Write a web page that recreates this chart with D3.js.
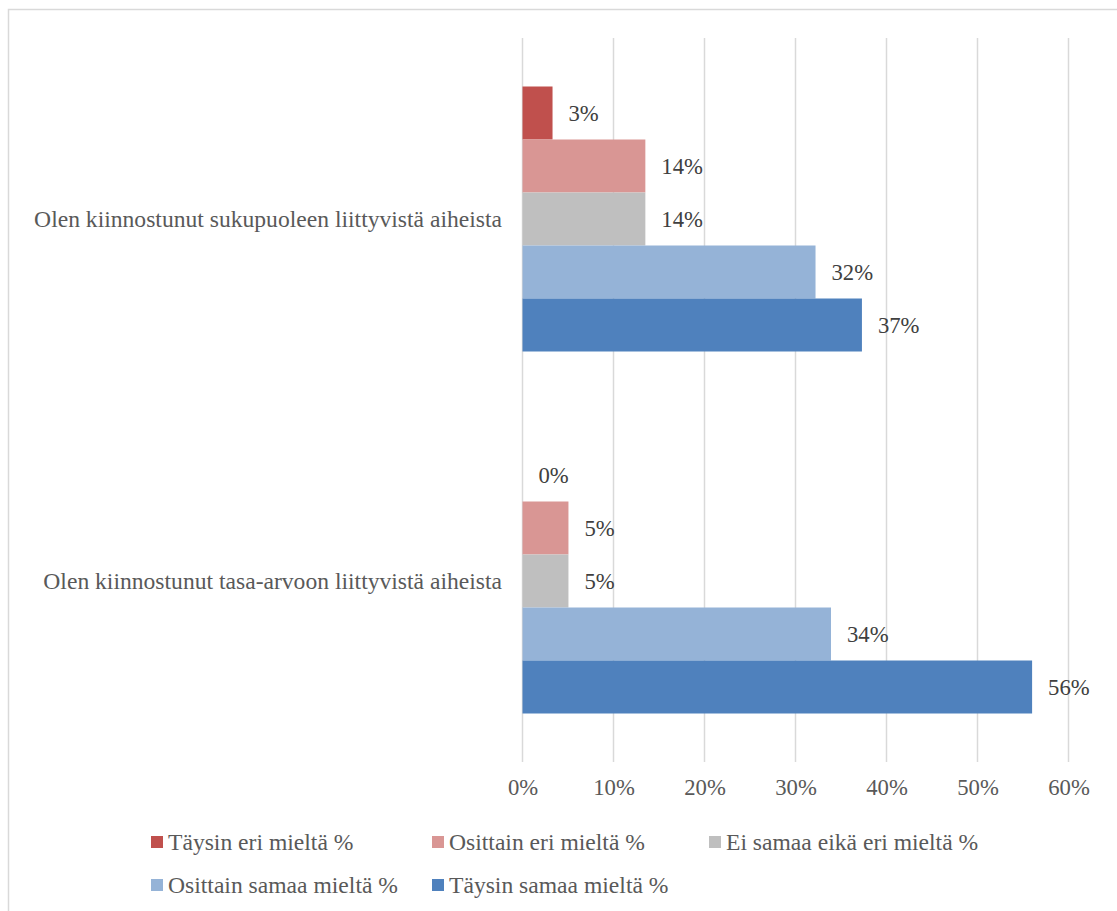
<!DOCTYPE html>
<html><head><meta charset="utf-8">
<script src="https://cdn.jsdelivr.net/npm/d3@7"></script>
<style>body{margin:0;background:#fff}svg{display:block}text{font-family:"Liberation Serif","Times New Roman",serif}</style>
</head><body>
<svg id="c" width="1117" height="911"></svg>
<script>
const categories = ["Olen kiinnostunut sukupuoleen liittyvistä aiheista", "Olen kiinnostunut tasa-arvoon liittyvistä aiheista"];
const seriesNames = ["Täysin eri mieltä %", "Osittain eri mieltä %", "Ei samaa eikä eri mieltä %", "Osittain samaa mieltä %", "Täysin samaa mieltä %"];
const seriesColors = ["#C0504D", "#D99694", "#BFBFBF", "#95B3D7", "#4F81BD"];
const taysinEri = [3.3, 0];
const osittainEri = [13.5, 5.05];
const eiSamaa = [13.5, 5.05];
const osittainSamaa = [32.2, 33.9];
const taysinSamaa = [37.3, 56.0];
const xTicks = [0, 10, 20, 30, 40, 50, 60];

const seriesValues = [taysinEri, osittainEri, eiSamaa, osittainSamaa, taysinSamaa];
const svg = d3.select("#c");
const fsNum = 22.7;
const fsText = 23.6;

svg.append("rect").attr("x", 8.5).attr("y", 9.5).attr("width", 1130).attr("height", 920)
  .attr("fill", "#fff").attr("stroke", "#d9d9d9").attr("stroke-width", 1.5);

const x = d3.scaleLinear().domain([0, 60]).range([522.5, 1068.5]);
const y0 = d3.scaleBand().domain(categories).range([38, 762]).paddingInner(0).paddingOuter(0);
const y1 = d3.scaleBand().domain(seriesNames).range([0, 265]);
const groupOff = (y0.bandwidth() - 265) / 2;

// gridlines
svg.append("g").selectAll("line").data(xTicks).join("line")
  .attr("x1", d => x(d)).attr("x2", d => x(d)).attr("y1", 38).attr("y2", 762)
  .attr("stroke", "#d9d9d9").attr("stroke-width", 1.5);

// x axis labels
const xAxis = d3.axisBottom(x).tickValues(xTicks).tickFormat(d => d + "%").tickSize(0).tickPadding(0);
const gx = svg.append("g").attr("transform", "translate(0,779)").call(xAxis);
gx.select(".domain").remove();
gx.attr("font-family", null);
gx.selectAll("text").attr("font-size", fsNum).attr("fill", "#595959")
  .attr("font-family", '"Liberation Serif","Times New Roman",serif').attr("dy", "0.71em");

// bars
categories.forEach((cat, ci) => {
  const g = svg.append("g").attr("transform", `translate(0,${y0(cat) + groupOff})`);
  seriesNames.forEach((s, si) => {
    const v = seriesValues[si][ci];
    g.append("rect").attr("x", x(0)).attr("y", y1(s)).attr("width", x(v) - x(0))
      .attr("height", y1.bandwidth()).attr("fill", seriesColors[si]);
    g.append("text").attr("x", x(v) + 16).attr("y", y1(s) + y1.bandwidth() / 2)
      .attr("dy", "0.35em").attr("font-size", fsNum).attr("fill", "#404040")
      .text(Math.round(v) + "%");
  });
  svg.append("text").attr("x", 502).attr("y", y0(cat) + y0.bandwidth() / 2)
    .attr("dy", "0.35em").attr("text-anchor", "end").attr("font-size", fsText)
    .attr("fill", "#595959").text(cat);
});

// legend
const legendPos = [[151, 842], [432, 842], [709, 842], [151, 885], [432, 885]];
seriesNames.forEach((s, i) => {
  const [lx, ly] = legendPos[i];
  svg.append("rect").attr("x", lx).attr("y", ly - 6).attr("width", 12).attr("height", 12).attr("fill", seriesColors[i]);
  svg.append("text").attr("x", lx + 17).attr("y", ly).attr("dy", "0.35em")
    .attr("font-size", fsText).attr("fill", "#595959").text(s);
});
</script>
</body></html>
